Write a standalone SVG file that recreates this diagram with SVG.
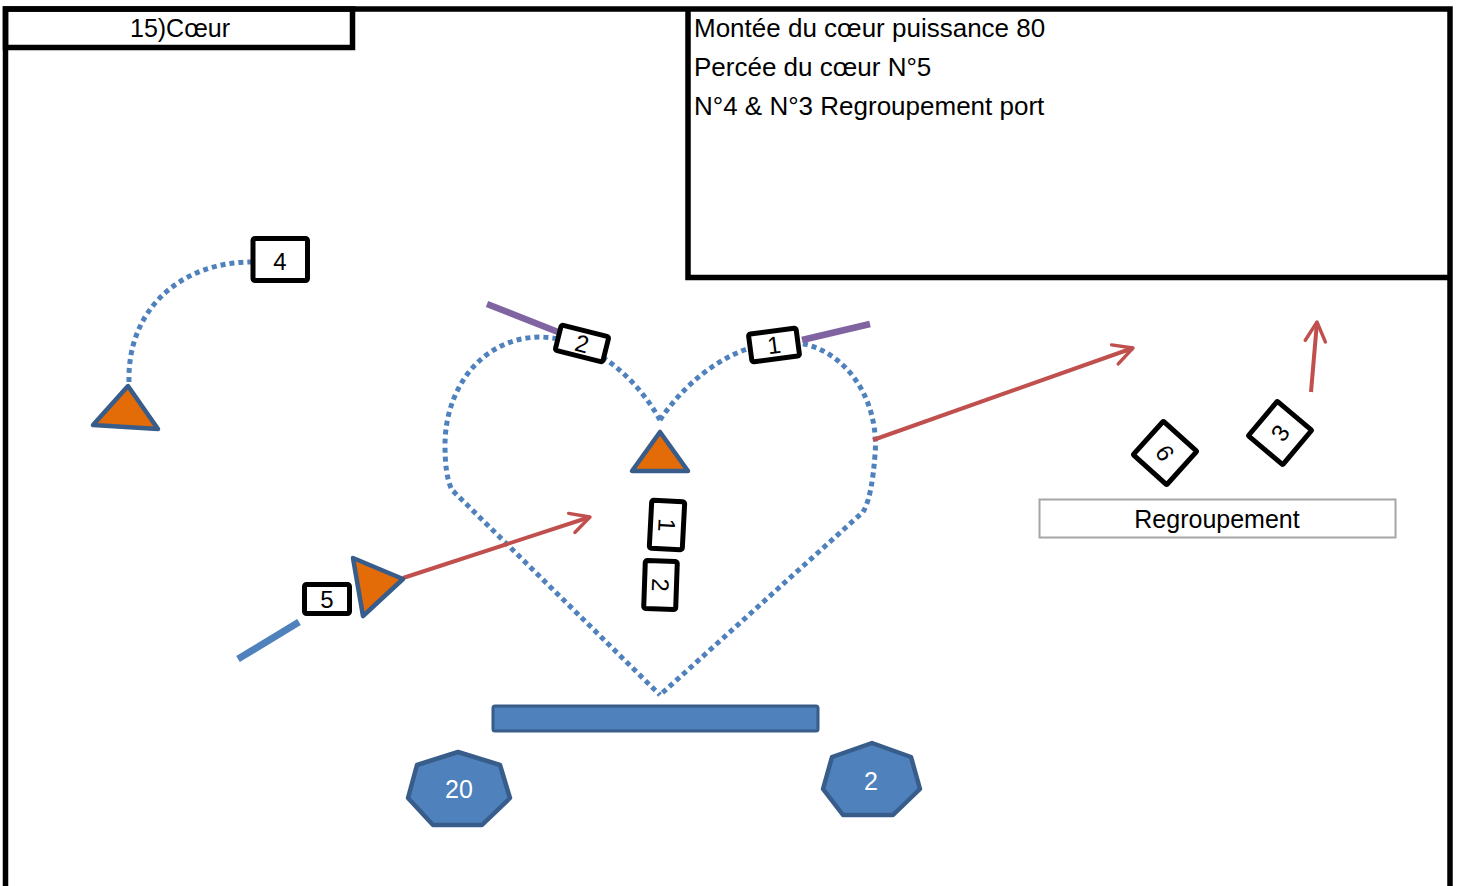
<svg xmlns="http://www.w3.org/2000/svg" width="1458" height="886" viewBox="0 0 1458 886">
<style>
text{font-family:"Liberation Sans",Arial,sans-serif;fill:#000}
.frame{fill:none;stroke:#000;stroke-width:5.5}
.box{fill:#fff;stroke:#000;stroke-width:5}
.num{font-size:24px;text-anchor:middle}
.dots{fill:none;stroke:#4F81BD;stroke-width:5;stroke-dasharray:5 4}
.tri{fill:#E36C09;stroke:#385D8A;stroke-width:4.5;stroke-linejoin:round}
.hept{fill:#4F81BD;stroke:#385D8A;stroke-width:4.5;stroke-linejoin:round}
.red{fill:none;stroke:#C0504D;stroke-width:4;marker-end:url(#ah)}
.purple{stroke:#8064A2;stroke-width:6.5}
.htext{font-size:25px;text-anchor:middle;fill:#fff}
</style>
<defs>
<marker id="ah" viewBox="0 0 10 10" refX="9" refY="5" markerWidth="6" markerHeight="6" orient="auto" markerUnits="strokeWidth">
<path d="M1,0.8 L9,5 L1,9.2" fill="none" stroke="#C0504D" stroke-width="1.4" stroke-linecap="round" stroke-linejoin="round"/>
</marker>
</defs>
<rect width="1458" height="886" fill="#fff"/>

<g id="frame">
<path class="frame" d="M5.5 900 V9 H1450 V900"/>
<rect class="frame" x="5.5" y="9" width="347" height="38.5"/>
<path class="frame" d="M688 9 V277.5 H1450"/>
<text x="180" y="37" font-size="25" text-anchor="middle">15)Cœur</text>
<text x="694" y="36.5" font-size="26">Montée du cœur puissance 80</text>
<text x="694" y="76" font-size="26">Percée du cœur N°5</text>
<text x="694" y="115" font-size="26">N°4 &amp; N°3 Regroupement port</text>
</g>

<g id="connectors">
<path class="dots" d="M660 420 C635 375,590 338,540 337 C480 338,445 390,445 445 C445 465,447 480,452 490 L660 695"/>
<path class="dots" d="M660 420 C690 375,740 340,790 342 C845 345,880 400,875 455 C873 480,870 500,863 512 L660 695"/>
<path class="dots" d="M129 382 C127 310,180 262,252 262"/>
<line class="purple" x1="487" y1="304" x2="558" y2="332"/>
<line class="purple" x1="802" y1="340" x2="870" y2="324"/>
<line x1="238" y1="659" x2="299" y2="622" stroke="#4F81BD" stroke-width="7"/>
<line class="red" x1="873" y1="440" x2="1133" y2="348"/>
<line class="red" x1="403" y1="578" x2="590" y2="517"/>
<line class="red" x1="1311" y1="392" x2="1317" y2="322"/>
</g>

<g id="bar"><rect x="493" y="706" width="325" height="25" rx="2" fill="#4F81BD" stroke="#385D8A" stroke-width="3"/></g>

<g id="tri-left"><polygon class="tri" points="128,386 93,425 158,429"/></g>
<g id="tri-center"><polygon class="tri" points="660,432 632,471 688,471"/></g>
<g id="tri-five"><polygon class="tri" points="353,558 403,579 363,616"/></g>

<g id="box4"><rect class="box" x="253" y="238.5" width="54.5" height="42" rx="2"/><text class="num" x="280" y="270">4</text></g>
<g id="box5"><rect class="box" x="304.5" y="584.5" width="45" height="29" rx="2"/><text class="num" x="327" y="608">5</text></g>
<g id="box2top" transform="translate(582 343.5) rotate(14)"><rect class="box" x="-24.5" y="-13" width="49" height="26" rx="2"/><text class="num" x="0" y="8.5">2</text></g>
<g id="box1top" transform="translate(774 345) rotate(-7.5)"><rect class="box" x="-24" y="-14" width="48" height="28" rx="2"/><text class="num" x="0" y="8.5">1</text></g>
<g id="box1v" transform="translate(667 525) rotate(93)"><rect class="box" x="-24" y="-16.5" width="48" height="33" rx="2"/><text class="num" x="0" y="8.5">1</text></g>
<g id="box2v" transform="translate(660.5 585) rotate(92)"><rect class="box" x="-24" y="-16" width="48" height="32" rx="2"/><text class="num" x="0" y="8.5">2</text></g>
<g id="box6" transform="translate(1165 453) rotate(42)"><rect class="box" x="-22.5" y="-22.5" width="45" height="45" rx="1"/><text class="num" x="0" y="8.5" transform="rotate(15)">6</text></g>
<g id="box3" transform="translate(1280 433) rotate(40)"><rect class="box" x="-22.5" y="-22.5" width="45" height="45" rx="1"/><text class="num" x="0" y="8.5" transform="rotate(-95)">3</text></g>

<g id="regroupement"><rect x="1039.5" y="499.5" width="356" height="38" fill="#fff" stroke="#A6A6A6" stroke-width="2"/><text x="1217" y="528" font-size="25" text-anchor="middle">Regroupement</text></g>

<g id="hept20"><polygon class="hept" points="458,752 417,765 408,798 433,825 482,825 510,798 500,765"/><text class="htext" x="459" y="798">20</text></g>
<g id="hept2"><polygon class="hept" points="872,743 832,757 823,789 843,815 893,815 920,789 911,757"/><text class="htext" x="871" y="790">2</text></g>
</svg>
